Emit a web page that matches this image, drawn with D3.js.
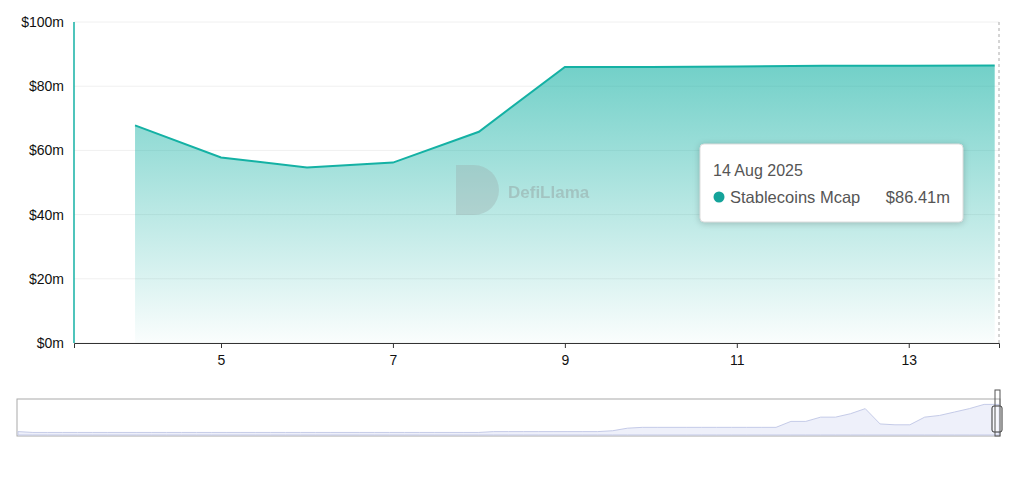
<!DOCTYPE html>
<html><head><meta charset="utf-8">
<script src="https://cdn.jsdelivr.net/npm/d3@7"></script>
<style>body{margin:0;background:#fff;font-family:"Liberation Sans",Arial,sans-serif}</style>
</head><body><div id="chart"></div>
<script>
var days = [4, 5, 6, 7, 8, 9, 10, 11, 12, 13, 14];
var mcap = [67.8, 57.8, 54.7, 56.2, 65.8, 86.0, 86.0, 86.1, 86.4, 86.4, 86.41];
var xTicks = [5, 7, 9, 11, 13];
var yTicks = [0, 20, 40, 60, 80, 100];
var mcapHistory = [4,3,3,3,3,3,3,3,3,3,3,3,3,3,3,3,3,3,3,3,3,3,3,3,3,3,3,3,3,3,3,3,4,4,4,4,4,4,4,4,5,8,9,9,9,9,9,9,9,9,9,9,16,16,21,21,25,31,13,12,12,21,23,27,31,36,36];

var width = 1024, height = 486;
var svg = d3.select("#chart").append("svg").attr("width", width).attr("height", height);
var x = d3.scaleLinear().domain([3.29, 14.05]).range([74, 999]);
var y = d3.scaleLinear().domain([0, 100]).range([343, 22]);

var defs = svg.append("defs");
var g = defs.append("linearGradient").attr("id", "fill").attr("x1", 0).attr("y1", 0).attr("x2", 0).attr("y2", 1);
g.append("stop").attr("offset", "0%").attr("stop-color", "#14b1a4").attr("stop-opacity", 0.6);
g.append("stop").attr("offset", "100%").attr("stop-color", "#14b1a4").attr("stop-opacity", 0.02);

// grid
svg.selectAll(".grid").data(yTicks).enter().append("line")
  .attr("x1", 74).attr("x2", 999).attr("y1", function(d){return y(d);}).attr("y2", function(d){return y(d);})
  .attr("stroke", "#f0f0f0");

svg.selectAll(".ylab").data(yTicks).enter().append("text")
  .attr("x", 64).attr("y", function(d){return y(d) + 5;}).attr("text-anchor", "end")
  .attr("font-size", 14).attr("fill", "#111").text(function(d){return "$" + d + "m";});

var xa = svg.append("g").attr("transform", "translate(0,343)")
  .call(d3.axisBottom(x).tickValues(xTicks).tickSize(5).tickFormat(d3.format("d")));
xa.select(".domain").attr("stroke", "#333");
xa.selectAll(".tick line").attr("stroke", "#333");
xa.selectAll("text").attr("font-size", 14).attr("fill", "#111").attr("dy", "1em").attr("font-family", "Liberation Sans, Arial");

svg.append("line").attr("x1", 74).attr("x2", 74).attr("y1", 22).attr("y2", 343).attr("stroke", "#14b1a4").attr("stroke-width", 1.5);

var pts = days.map(function(d, i){return [d, mcap[i]];});
svg.append("path").datum(pts).attr("fill", "url(#fill)")
  .attr("d", d3.area().x(function(d){return x(d[0]);}).y0(y(0)).y1(function(d){return y(d[1]);}));
svg.append("path").datum(pts).attr("fill", "none").attr("stroke", "#14b1a4").attr("stroke-width", 2)
  .attr("d", d3.line().x(function(d){return x(d[0]);}).y(function(d){return y(d[1]);}));

svg.append("line").attr("x1", 999).attr("x2", 999).attr("y1", 22).attr("y2", 343)
  .attr("stroke", "#aaa").attr("stroke-dasharray", "3,3");

// watermark
var wm = svg.append("g").attr("opacity", 0.35);
wm.append("path").attr("d", "M456,165 h18 a25,25 0 0 1 0,50 h-18 z").attr("fill", "#9aa");
wm.append("text").attr("x", 508).attr("y", 198).attr("font-size", 17).attr("font-weight", "bold").attr("fill", "#888").text("DefiLlama");

// tooltip
var tt = svg.append("g");
tt.append("rect").attr("x", 700).attr("y", 144).attr("width", 263).attr("height", 78).attr("rx", 4)
  .attr("fill", "#fff").attr("stroke", "#ddd").style("filter", "drop-shadow(0 1px 3px rgba(0,0,0,0.2))");
tt.append("text").attr("x", 713).attr("y", 176).attr("font-size", 16).attr("fill", "#555").text("14 Aug 2025");
tt.append("circle").attr("cx", 719).attr("cy", 197).attr("r", 5.5).attr("fill", "#14a39a");
tt.append("text").attr("x", 730).attr("y", 203).attr("font-size", 16.5).attr("fill", "#555").text("Stablecoins Mcap");
tt.append("text").attr("x", 950).attr("y", 203).attr("font-size", 16.5).attr("fill", "#555").attr("text-anchor", "end").text("$86.41m");

// data zoom slider
var sx = d3.scaleLinear().domain([0, mcapHistory.length - 1]).range([18, 999]);
var sy = d3.scaleLinear().domain([0, 40]).range([435, 401]);
svg.append("rect").attr("x", 17).attr("y", 399).attr("width", 983).attr("height", 37).attr("fill", "none").attr("stroke", "#aaa");
svg.append("path").datum(mcapHistory).attr("fill", "#eef0fa").attr("stroke", "#c5cbe8")
  .attr("d", d3.area().x(function(d, i){return sx(i);}).y0(435).y1(function(d){return sy(d);}));
svg.append("rect").attr("x", 992).attr("y", 406).attr("width", 10).attr("height", 26).attr("rx", 2).attr("fill", "#fff").attr("fill-opacity", 0.5).attr("stroke", "#333");
svg.append("rect").attr("x", 995).attr("y", 390).attr("width", 5).attr("height", 46).attr("fill", "none").attr("stroke", "#555");
</script></body></html>
